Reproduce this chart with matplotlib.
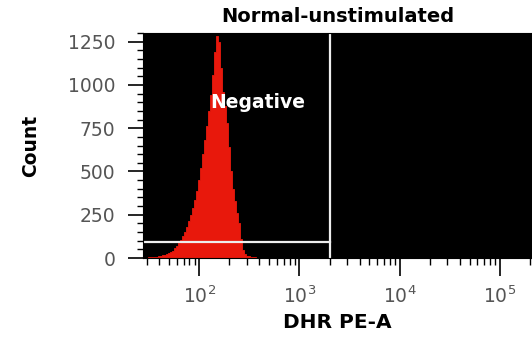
import numpy as np
import matplotlib
matplotlib.use("Agg")
import matplotlib.pyplot as plt
from matplotlib.ticker import LogLocator, MultipleLocator

# histogram: equal-width bins in log10(DHR PE-A), first bin centre and width
bin_start = 1.50
bin_width = 0.02
counts = [3, 4, 5, 6, 8, 10, 12, 15, 18, 22,
          28, 34, 42, 55, 70, 85, 105, 125, 150, 180,
          215, 250, 290, 335, 390, 450, 520, 600, 680, 760,
          850, 940, 1060, 1190, 1280, 1250, 1100, 960, 880, 780,
          640, 500, 400, 330, 260, 200, 110, 45, 25, 14,
          9, 6, 4, 3, 2, 1]

# gate
gate_x = 2040
gate_y = 93
gate_label = "Negative"
label_x = 128
label_y = 900

title = "Normal-unstimulated"
xlabel = "DHR PE-A"
ylabel = "Count"
xlim = (27.5, 2.1e5)
ylim = (0, 1300)
yticks = [0, 250, 500, 750, 1000, 1250]

centres = bin_start + bin_width * np.arange(len(counts))
edges = 10 ** np.append(centres - bin_width / 2, centres[-1] + bin_width / 2)
# step outline without seams between bars
xs = np.repeat(edges, 2)[1:-1]
ys = np.repeat(counts, 2)

fig = plt.figure(figsize=(5.32, 3.41), dpi=100)
ax = fig.add_axes([143 / 532, 1 - 258 / 341, 1 - 143 / 532, 225 / 341])
ax.set_facecolor("black")

ax.fill_between(xs, 0, ys, facecolor="#e8180c", edgecolor="#e8180c", lw=0.6)

# gate lines
ax.plot([xlim[0], gate_x], [gate_y, gate_y], color="#eeeeee", lw=1.6)
ax.axvline(gate_x, color="#eeeeee", lw=1.6)
ax.text(label_x, label_y, gate_label, color="white", fontsize=13.5,
        fontweight="bold", ha="left", va="center")

ax.set_xscale("log")
ax.set_xlim(*xlim)
ax.set_ylim(*ylim)
ax.set_xticks([1e2, 1e3, 1e4, 1e5])
ax.xaxis.set_minor_locator(LogLocator(base=10, subs=np.arange(2, 10)))
ax.set_yticks(yticks)
ax.yaxis.set_minor_locator(MultipleLocator(50))

ax.tick_params(axis="x", which="major", length=13, width=1.2, pad=7,
               labelsize=13.5, labelcolor="#555555")
ax.tick_params(axis="x", which="minor", length=5, width=1)
ax.tick_params(axis="y", which="major", length=11, width=1.2, pad=9,
               labelsize=13.5, labelcolor="#555555")
ax.tick_params(axis="y", which="minor", length=4, width=1)

ax.set_title(title, fontsize=14, fontweight="bold", pad=8)
ax.set_xlabel(xlabel, fontsize=14.5, fontweight="bold", labelpad=4)
ax.set_ylabel(ylabel, fontsize=13.5, fontweight="bold", labelpad=20)

fig.savefig("out.png", dpi=100)
